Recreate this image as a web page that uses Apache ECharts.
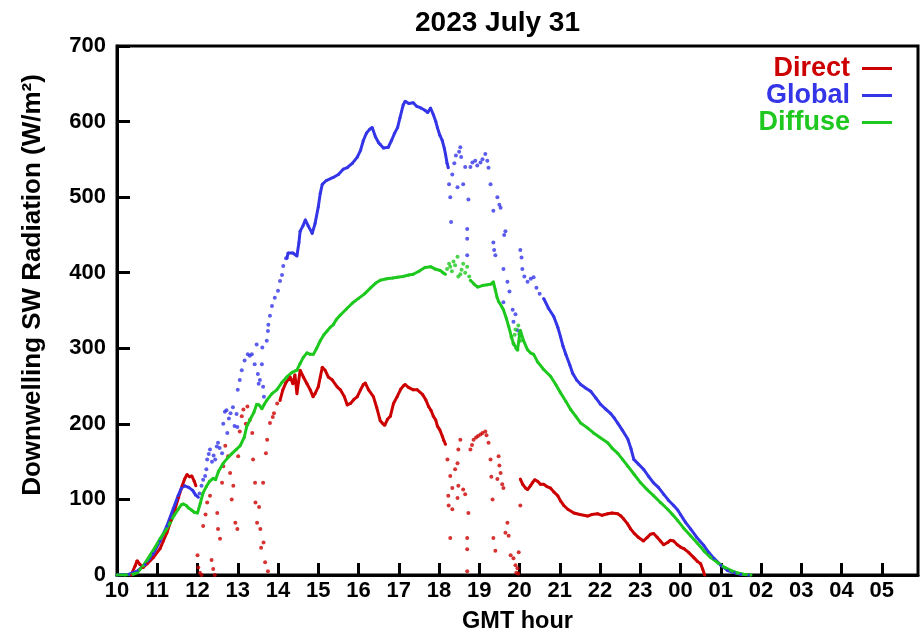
<!DOCTYPE html>
<html>
<head>
<meta charset="utf-8">
<script src="https://cdn.jsdelivr.net/npm/echarts@6/dist/echarts.min.js"></script>
<style>
html, body { margin: 0; padding: 0; background: #fff; }
#chart { width: 922px; height: 639px; }
</style>
</head>
<body>
<div id="chart"></div>
<script>
// GMT hours, past midnight written as 24+
var hourTicks = [10, 11, 12, 13, 14, 15, 16, 17, 18, 19, 20, 21, 22, 23, 24, 25, 26, 27, 28, 29];
var hourLabels = ['10', '11', '12', '13', '14', '15', '16', '17', '18', '19', '20', '21', '22', '23', '00', '01', '02', '03', '04', '05'];

var directAm = [[10.35,0],[10.45,12],[10.5,19],[10.57,14],[10.65,10],[10.75,15],[10.9,23],[11.07,35],[11.15,45],[11.24,56],[11.34,72],[11.44,87],[11.53,103],[11.62,118],[11.68,127],[11.74,133],[11.8,130],[11.86,131],[11.92,124],[11.96,118]];
var directDotsAm = [[12.0,26],[12.02,10],[12.06,3],[12.1,0],[12.14,65],[12.2,80],[12.24,96],[12.31,105],[12.35,20],[12.39,8],[12.43,0],[12.49,82],[12.51,61],[12.56,48],[12.61,122],[12.64,144],[12.69,171],[12.76,157],[12.81,135],[12.85,100],[12.89,118],[12.94,69],[12.99,61],[13.01,157],[13.05,190],[13.1,210],[13.14,219],[13.2,200],[13.24,223],[13.3,205],[13.36,188],[13.38,153],[13.43,122],[13.44,96],[13.48,69],[13.53,90],[13.56,61],[13.58,36],[13.63,122],[13.64,43],[13.68,17],[13.7,161],[13.73,179],[13.75,5],[13.8,201],[13.87,209],[13.9,214],[13.98,227]];
var directMid = [[14.05,231],[14.12,245],[14.2,255],[14.3,262],[14.37,253],[14.42,265],[14.47,240],[14.55,271],[14.63,262],[14.72,253],[14.8,245],[14.87,236],[14.92,240],[15.0,249],[15.05,262],[15.1,275],[15.17,271],[15.25,262],[15.35,258],[15.47,249],[15.55,245],[15.65,236],[15.72,225],[15.8,227],[15.88,232],[15.97,236],[16.05,245],[16.12,252],[16.17,254],[16.25,245],[16.37,236],[16.45,222],[16.54,204],[16.59,201],[16.65,198],[16.72,206],[16.79,210],[16.87,227],[16.96,236],[17.05,246],[17.11,250],[17.16,252],[17.25,248],[17.36,245],[17.46,245],[17.59,239],[17.67,232],[17.74,223],[17.8,218],[17.86,210],[17.92,205],[17.96,197],[18.02,192],[18.08,184],[18.12,178],[18.16,173]];
var directDotsPm = [[18.21,153],[18.23,105],[18.24,92],[18.28,131],[18.28,49],[18.33,115],[18.33,87],[18.4,140],[18.46,148],[18.46,102],[18.48,166],[18.48,118],[18.53,179],[18.6,113],[18.65,107],[18.7,49],[18.7,34],[18.7,5],[18.73,82],[18.78,166],[18.82,172],[18.86,179],[18.92,182],[18.97,184],[19.03,186],[19.08,188],[19.15,190],[19.18,185],[19.23,175],[19.28,153],[19.3,130],[19.33,100],[19.35,49],[19.4,32],[19.45,127],[19.48,157],[19.5,145],[19.53,135],[19.57,120],[19.6,115],[19.65,56],[19.7,69],[19.73,52],[19.78,26],[19.85,22],[19.9,13],[19.92,3],[19.95,9],[19.97,2],[19.98,30],[20.02,92]];
var directPm = [[20.02,127],[20.08,120],[20.15,115],[20.2,113],[20.27,118],[20.32,122],[20.38,126],[20.45,124],[20.52,120],[20.6,120],[20.68,117],[20.77,115],[20.85,110],[20.95,105],[21.02,98],[21.1,92],[21.2,87],[21.35,82],[21.5,80],[21.69,78],[21.8,80],[21.94,81],[22.05,79],[22.19,81],[22.3,82],[22.44,81],[22.52,78],[22.59,74],[22.68,68],[22.76,61],[22.85,55],[22.95,50],[23.08,45],[23.18,50],[23.25,54],[23.33,55],[23.42,50],[23.5,45],[23.58,40],[23.68,43],[23.75,46],[23.83,45],[23.92,40],[24.0,37],[24.08,35],[24.2,30],[24.33,23],[24.42,18],[24.5,15],[24.55,8],[24.6,0]];

var globalAm = [[10.0,0],[10.3,1],[10.5,5],[10.7,14],[10.9,28],[11.07,45],[11.24,65],[11.4,88],[11.52,105],[11.6,115],[11.68,118],[11.78,116],[11.88,112],[11.95,106],[12.02,103]];
var globalDotsAm = [[12.05,108],[12.1,118],[12.14,126],[12.19,131],[12.22,140],[12.24,153],[12.28,160],[12.31,166],[12.36,150],[12.4,158],[12.44,153],[12.48,170],[12.51,175],[12.55,168],[12.61,161],[12.64,200],[12.68,216],[12.72,218],[12.74,188],[12.78,207],[12.82,214],[12.88,222],[12.92,197],[12.97,213],[12.99,196],[13.0,245],[13.05,258],[13.1,271],[13.17,284],[13.25,292],[13.3,290],[13.35,292],[13.42,279],[13.47,305],[13.5,266],[13.52,253],[13.55,258],[13.6,279],[13.61,301],[13.63,249],[13.65,236],[13.72,310],[13.75,323],[13.76,331],[13.8,343],[13.85,356],[13.92,367],[14.0,376],[14.05,389],[14.1,397],[14.13,409],[14.2,419]];
var globalMid = [[14.22,419],[14.25,426],[14.37,426],[14.47,422],[14.52,440],[14.55,455],[14.62,462],[14.68,470],[14.75,462],[14.85,452],[14.92,465],[15.0,487],[15.05,505],[15.1,517],[15.2,522],[15.37,526],[15.5,530],[15.62,537],[15.72,539],[15.85,545],[15.97,553],[16.05,562],[16.12,575],[16.2,585],[16.28,590],[16.34,592],[16.42,580],[16.5,572],[16.54,570],[16.62,565],[16.74,566],[16.82,575],[16.9,585],[16.97,592],[17.03,605],[17.11,622],[17.16,627],[17.25,624],[17.36,625],[17.45,620],[17.55,618],[17.65,615],[17.72,612],[17.79,618],[17.86,609],[17.92,600],[17.96,592],[18.02,582],[18.08,575],[18.13,565],[18.16,557],[18.2,545],[18.23,539]];
var globalDotsPm = [[18.25,517],[18.28,500],[18.3,467],[18.33,530],[18.38,545],[18.42,555],[18.46,513],[18.5,560],[18.53,566],[18.55,553],[18.6,517],[18.65,540],[18.7,458],[18.7,445],[18.7,423],[18.73,497],[18.78,540],[18.83,546],[18.9,548],[18.95,542],[19.03,546],[19.08,550],[19.15,557],[19.2,548],[19.23,539],[19.28,517],[19.35,482],[19.35,440],[19.37,430],[19.4,423],[19.45,500],[19.5,490],[19.53,486],[19.6,405],[19.62,450],[19.65,455],[19.7,388],[19.6,361],[19.75,375],[19.83,351],[19.85,335],[19.9,345],[19.95,324],[20.0,318],[20.02,430],[20.05,420],[20.07,405],[20.12,395],[20.2,388],[20.28,392],[20.35,394],[20.42,380],[20.5,372]];
var globalPm = [[20.6,366],[20.72,353],[20.85,342],[20.95,328],[21.02,315],[21.08,303],[21.15,292],[21.25,278],[21.32,267],[21.42,258],[21.52,252],[21.65,247],[21.77,243],[21.9,234],[22.01,226],[22.13,220],[22.26,214],[22.35,208],[22.44,201],[22.55,192],[22.69,180],[22.77,167],[22.84,153],[22.95,147],[23.08,140],[23.2,131],[23.33,122],[23.45,116],[23.58,107],[23.7,99],[23.83,92],[23.93,86],[24.0,80],[24.12,70],[24.25,61],[24.4,50],[24.58,39],[24.7,30],[24.83,22],[25.0,13],[25.17,6],[25.35,3],[25.5,1],[25.7,0]];

var diffuseAm = [[10.0,0],[10.2,0],[10.4,1],[10.5,3],[10.65,12],[10.82,26],[10.95,37],[11.07,48],[11.2,58],[11.32,69],[11.42,79],[11.52,87],[11.6,93],[11.65,94],[11.72,92],[11.77,89],[11.85,86],[11.92,83],[12.0,82],[12.07,95],[12.14,109],[12.22,117],[12.3,124],[12.39,128],[12.45,126],[12.52,137],[12.64,148],[12.75,155],[12.86,161],[12.96,166],[13.06,171],[13.16,182],[13.22,196],[13.3,205],[13.4,215],[13.47,226],[13.53,225],[13.6,220],[13.66,226],[13.72,231],[13.85,240],[13.97,245],[14.1,255],[14.22,262],[14.35,268],[14.47,271],[14.55,280],[14.63,288],[14.72,294],[14.8,292],[14.88,292],[14.96,300],[15.05,310],[15.14,318],[15.22,323],[15.3,328],[15.37,331],[15.45,338],[15.55,344],[15.7,352],[15.85,360],[16.0,366],[16.15,372],[16.3,380],[16.42,386],[16.54,390],[16.7,392],[16.85,393],[16.96,394],[17.1,395],[17.25,397],[17.36,398],[17.5,402],[17.65,407],[17.79,408],[17.9,405],[18.03,403],[18.1,400],[18.16,398]];
var diffuseDots = [[18.2,405],[18.25,412],[18.28,408],[18.32,402],[18.36,415],[18.4,410],[18.46,421],[18.48,395],[18.53,398],[18.56,404],[18.6,412],[18.65,400],[18.7,408],[18.75,395],[19.8,315],[19.85,306],[19.88,318],[19.9,325],[19.92,300],[19.95,298],[19.97,330],[20.0,320],[20.02,310]];
var diffusePm = [[18.78,390],[18.87,385],[18.96,381],[19.08,383],[19.2,384],[19.3,385],[19.35,388],[19.4,377],[19.44,368],[19.48,362],[19.55,356],[19.6,351],[19.67,340],[19.73,329],[19.8,315],[19.85,306],[19.95,298],[20.02,324],[20.1,310],[20.2,298],[20.27,294],[20.35,292],[20.45,282],[20.6,272],[20.77,263],[20.9,252],[21.02,241],[21.15,230],[21.27,219],[21.4,210],[21.52,201],[21.68,195],[21.84,188],[22.0,182],[22.19,175],[22.3,168],[22.44,161],[22.56,153],[22.69,144],[22.85,133],[23.01,122],[23.17,113],[23.33,105],[23.5,96],[23.68,87],[23.8,80],[23.93,72],[24.08,62],[24.25,52],[24.42,42],[24.58,32],[24.75,23],[24.93,16],[25.1,10],[25.25,6],[25.4,3],[25.57,1],[25.75,0]];

var red = '#cc0000';
var blue = '#3535e8';
var green = '#1ec81e';
var font = '"Liberation Sans", Arial, Helvetica, sans-serif';

function track(name, color, data) {
  return {
    name: name,
    type: 'line',
    data: data,
    symbol: 'circle',
    symbolSize: 3,
    showSymbol: true,
    lineStyle: { color: color, width: 3 },
    itemStyle: { color: color },
    emphasis: { disabled: true }
  };
}

function dots(name, color, data) {
  return {
    name: name,
    type: 'scatter',
    data: data,
    symbolSize: 4,
    itemStyle: { color: color },
    emphasis: { disabled: true }
  };
}

var chart = echarts.init(document.getElementById('chart'));
chart.setOption({
  animation: false,
  backgroundColor: '#fff',
  title: {
    text: '2023 July 31',
    left: 497.5,
    top: 9,
    textAlign: 'center',
    padding: 0,
    textStyle: { fontFamily: font, fontSize: 28, fontWeight: 'bold', color: '#000' }
  },
  legend: {
    orient: 'vertical',
    right: 30,
    top: 55,
    padding: 0,
    itemGap: 0,
    align: 'right',
    icon: 'rect',
    itemWidth: 30,
    itemHeight: 3,
    selectedMode: false,
    textStyle: { fontFamily: font, fontSize: 27, fontWeight: 'bold', lineHeight: 26, padding: [0, 7, 0, 0] },
    data: [
      { name: 'Direct', textStyle: { color: red } },
      { name: 'Global', textStyle: { color: blue } },
      { name: 'Diffuse', textStyle: { color: green } }
    ]
  },
  graphic: [{
    type: 'text',
    x: 33,
    y: 285,
    rotation: Math.PI / 2,
    style: {
      text: 'Downwelling SW Radiation (W/m²)',
      font: 'bold 26px ' + font,
      fill: '#000',
      textAlign: 'center',
      textVerticalAlign: 'middle',
      align: 'center',
      verticalAlign: 'middle'
    }
  }],
  grid: {
    left: 117,
    right: 4,
    top: 46,
    bottom: 59.5,
    show: true,
    borderColor: '#000',
    borderWidth: 3
  },
  xAxis: {
    type: 'value',
    min: 10,
    max: 29.9,
    interval: 1,
    name: 'GMT hour',
    nameLocation: 'middle',
    nameGap: 35,
    nameTextStyle: { fontFamily: font, fontSize: 23.5, fontWeight: 'bold', color: '#000' },
    splitLine: { show: false },
    axisLine: { lineStyle: { color: '#000', width: 3 } },
    axisTick: { inside: true, length: 12, customValues: hourTicks, lineStyle: { color: '#000', width: 3 } },
    axisLabel: {
      margin: 5,
      customValues: hourTicks,
      fontFamily: font, fontSize: 22, fontWeight: 'bold', color: '#000',
      formatter: function (v) { return hourLabels[Math.round(v) - 10]; }
    }
  },
  yAxis: {
    type: 'value',
    min: 0,
    max: 700,
    interval: 100,
    splitLine: { show: false },
    axisLine: { lineStyle: { color: '#000', width: 3 } },
    axisTick: { inside: true, length: 13, lineStyle: { color: '#000', width: 3 } },
    axisLabel: { margin: 11, fontFamily: font, fontSize: 22, fontWeight: 'bold', color: '#000' }
  },
  series: [
    track('Direct', red, directAm),
    dots('Direct', red, directDotsAm),
    track('Direct', red, directMid),
    dots('Direct', red, directDotsPm),
    track('Direct', red, directPm),
    track('Global', blue, globalAm),
    dots('Global', blue, globalDotsAm),
    track('Global', blue, globalMid),
    dots('Global', blue, globalDotsPm),
    track('Global', blue, globalPm),
    track('Diffuse', green, diffuseAm),
    dots('Diffuse', green, diffuseDots),
    track('Diffuse', green, diffusePm)
  ]
});
</script>
</body>
</html>
